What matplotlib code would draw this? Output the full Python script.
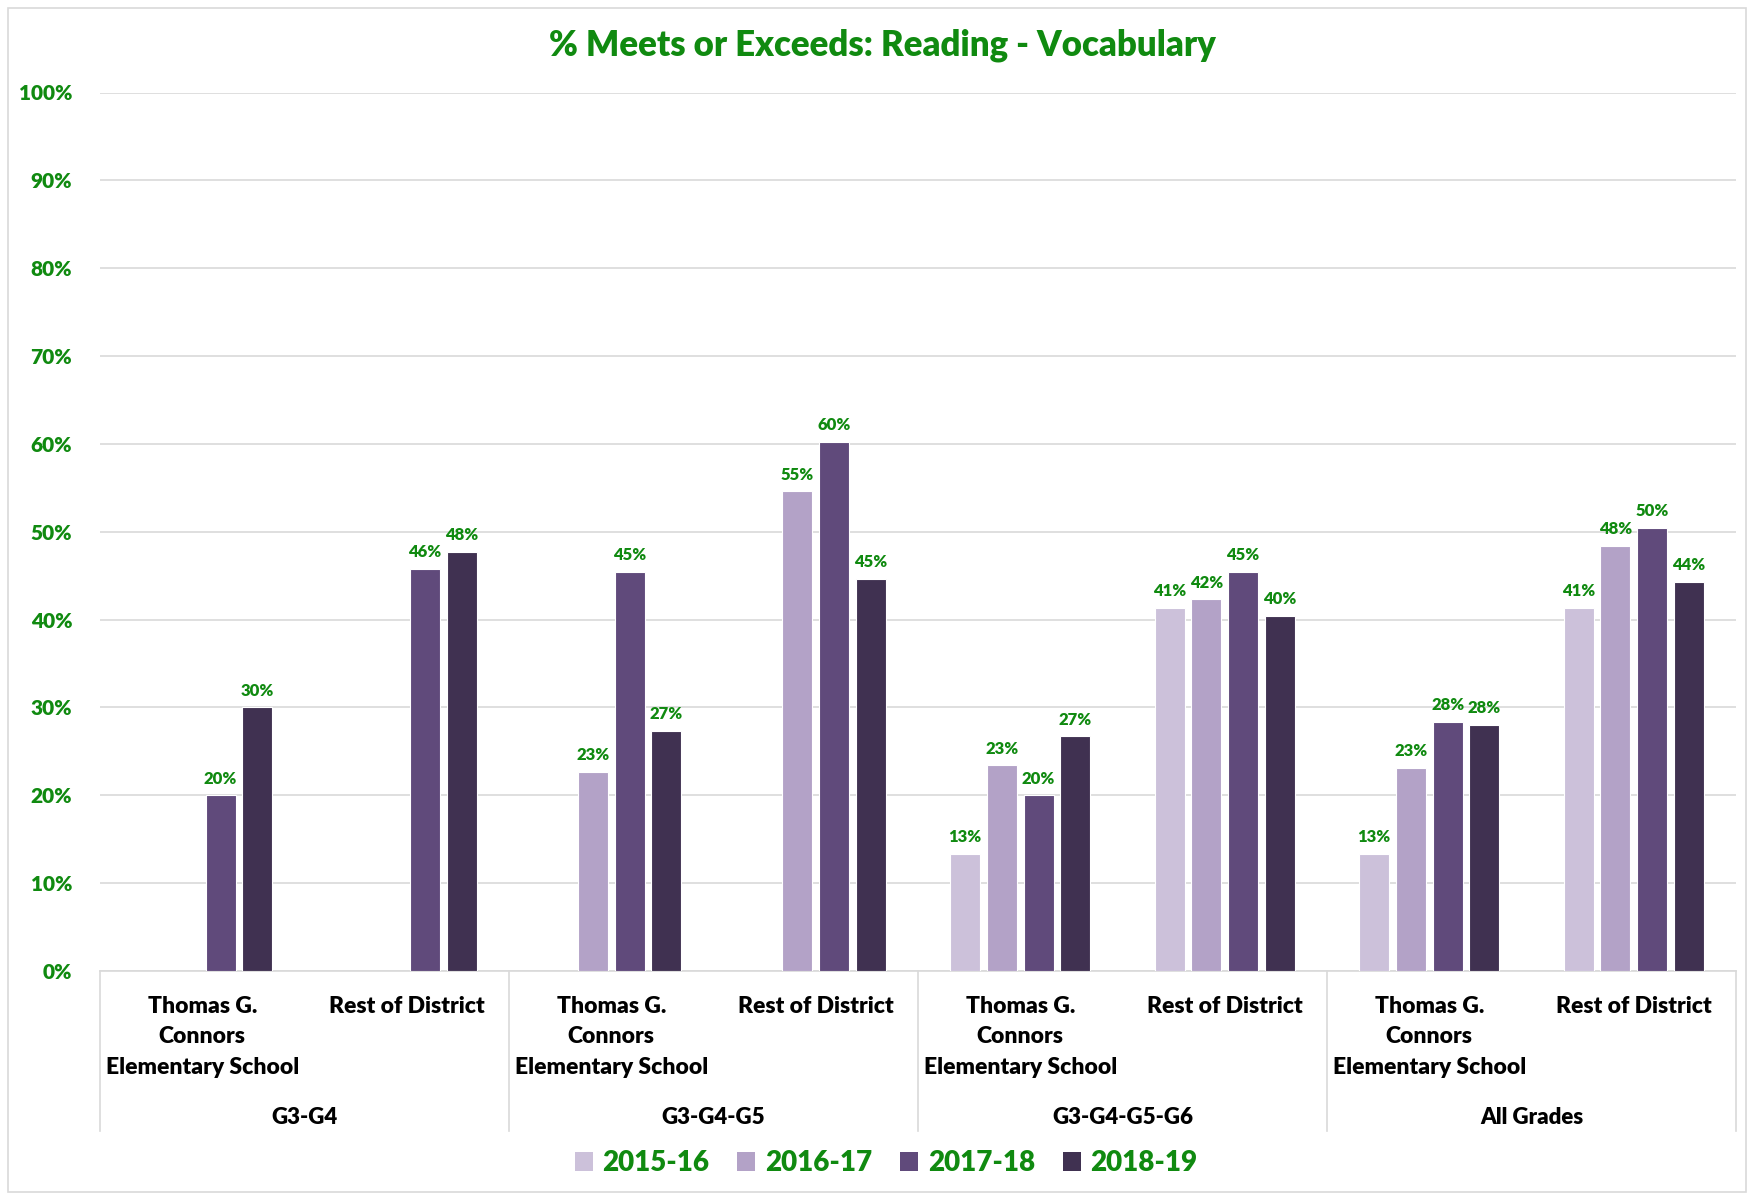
import matplotlib
matplotlib.use("Agg")
import matplotlib.pyplot as plt
import matplotlib.transforms as mtransforms
from matplotlib.patches import Rectangle, Patch
import numpy as np

plt.rcParams['font.family'] = ['Lato', 'DejaVu Sans']

groups = ["G3-G4", "G3-G4-G5", "G3-G4-G5-G6", "All Grades"]
schools = ["Thomas G.\nConnors\nElementary School", "Rest of District"]
years = ["2015-16", "2016-17", "2017-18", "2018-19"]
colors = ["#ccc1da", "#b3a2c7", "#604a7b", "#403151"]

# values per year, in category order (group x school)
v_2015 = [np.nan, np.nan, np.nan, np.nan, 13.3, 41.3, 13.3, 41.3]
v_2016 = [np.nan, np.nan, 22.7, 54.6, 23.4, 42.3, 23.1, 48.4]
v_2017 = [20.0, 45.8, 45.4, 60.2, 20.0, 45.4, 28.4, 50.4]
v_2018 = [30.0, 47.7, 27.3, 44.6, 26.7, 40.4, 28.0, 44.3]
series = [v_2015, v_2016, v_2017, v_2018]

GREEN = "#108a10"
W = "heavy"

fig = plt.figure(figsize=(17.48, 11.94), dpi=100)
ax = fig.add_axes([100/1748, 1 - 971/1194, (1736-100)/1748, (971-92.5)/1194])

ncat = len(groups) * len(schools)
x = np.arange(ncat)
offsets = [-0.27, -0.09, 0.09, 0.27]
bw = 0.147
for s, vals, c, off in zip(years, series, colors, offsets):
    vals = np.array(vals, dtype=float)
    ax.bar(x + off, vals, width=bw, color=c, edgecolor="white", linewidth=0.8, label=s, zorder=3)
    for xi, v in zip(x, vals):
        if not np.isnan(v):
            ax.text(xi + off, v + 1.0, f"{int(round(v))}%", ha="center", va="bottom",
                    color=GREEN, fontsize=12, fontweight=W, zorder=4)

ax.set_xlim(-0.5, ncat - 0.5)
ax.set_ylim(0, 100)
ax.set_yticks(np.arange(0, 101, 10))
ax.set_yticklabels([f"{t}%" for t in range(0, 101, 10)], color=GREEN, fontsize=15, fontweight=W)
ax.tick_params(axis="y", length=0, pad=20)
ax.tick_params(axis="x", length=0, labelbottom=False)
ax.grid(axis="y", color="#d9d9d9", linewidth=1.2, zorder=0)
for sp in ["top", "right", "left"]:
    ax.spines[sp].set_visible(False)
ax.spines["bottom"].set_color("#d9d9d9")
ax.spines["bottom"].set_linewidth(1.2)

trans = mtransforms.blended_transform_factory(ax.transData, fig.transFigure)
# category labels
for i in range(ncat):
    ax.text(i, 1 - 996/1194, schools[i % 2], transform=trans, ha="center", va="top",
            fontsize=16.5, fontweight=W, color="black", linespacing=1.55)
# group labels and separators
for g, name in enumerate(groups):
    ax.text(2*g + 0.5, 1 - 1118/1194, name, transform=trans, ha="center", va="center",
            fontsize=16, fontweight=W, color="black")
for b in range(len(groups) + 1):
    ax.plot([2*b - 0.5, 2*b - 0.5], [1 - 971/1194, 1 - 1131/1194], transform=trans,
            color="#d9d9d9", linewidth=1.2, clip_on=False)

fig.text(0.505, 1 - 45/1194, "% Meets or Exceeds: Reading - Vocabulary", ha="center", va="center",
         fontsize=25, fontweight=W, color=GREEN)

handles = [Patch(facecolor=c, edgecolor="none") for c in colors]
leg = fig.legend(handles, years, loc="center", bbox_to_anchor=(0.507, 1 - 1163/1194), ncol=4,
                 frameon=False, handlelength=0.65, handleheight=0.65, handletextpad=0.35,
                 columnspacing=1.0, prop={"size": 20, "weight": W})
for t in leg.get_texts():
    t.set_color(GREEN)

fig.patches.append(Rectangle((8/1748, 2/1194), 1 - 10/1748, 1 - 10/1194, transform=fig.transFigure,
                             fill=False, edgecolor="#d9d9d9", linewidth=1.2))

fig.savefig("out.png", dpi=100)
